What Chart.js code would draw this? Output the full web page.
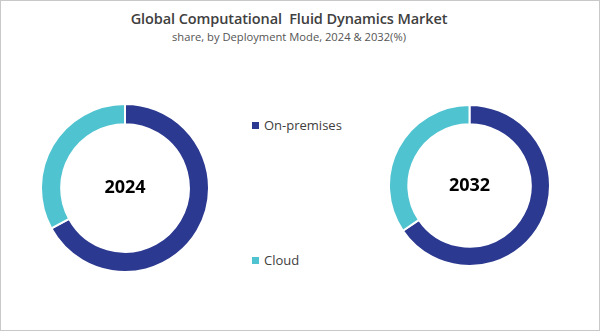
<!DOCTYPE html>
<html>
<head>
<meta charset="utf-8">
<script src="https://cdn.jsdelivr.net/npm/chart.js@4"></script>
<style>
  html, body { margin: 0; padding: 0; background: #fff; }
  #wrap {
    position: relative; width: 598px; height: 329px;
    border: 1px solid #c8c8c8; font-family: 'Open Sans', 'Noto Sans', sans-serif;
  }
  .title { position: absolute; left: 0; width: 576px; text-align: center; color: #404040; }
  #t1 { top: 8px; font-size: 14.5px; font-weight: 600; letter-spacing: -0.1px; }
  #t2 { top: 28px; font-size: 11.2px; color: #555; }
  .box { position: absolute; }
  .leg { position: absolute; font-size: 13px; color: #404040; display: flex; align-items: center; }
  .leg i { display: inline-block; width: 7px; height: 7px; margin-right: 5px; }
</style>
</head>
<body>
<div id="wrap">
  <div class="title" id="t1">Global Computational&nbsp; Fluid Dynamics Market</div>
  <div class="title" id="t2">share, by Deployment Mode, 2024 &amp; 2032(%)</div>
  <div class="box" style="left:39px;top:102px;width:170px;height:170px"><canvas id="c2024"></canvas></div>
  <div class="box" style="left:387px;top:103px;width:163px;height:163px"><canvas id="c2032"></canvas></div>
  <div class="leg" style="left:251px;top:115px"><i style="background:#2b3990"></i>On-premises</div>
  <div class="leg" style="left:251px;top:250px"><i style="background:#4fc3d0"></i>Cloud</div>
</div>
<script>
const categories = ['On-premises', 'Cloud'];
const years = ['2024', '2032'];
const share2024 = [67, 33];
const share2032 = [65.5, 34.5];
const colors = ['#2b3990', '#4fc3d0'];

const centerText = {
  id: 'centerText',
  afterDraw(chart, args, opts) {
    const arc = chart.getDatasetMeta(0).data[0];
    if (!arc) return;
    const ctx = chart.ctx;
    ctx.save();
    ctx.font = 'bold 18px "Open Sans", "Noto Sans", sans-serif';
    ctx.fillStyle = '#000';
    ctx.textAlign = 'center';
    ctx.textBaseline = 'middle';
    ctx.fillText(opts.text, arc.x, arc.y);
    ctx.restore();
  }
};

function makeDonut(id, values, label) {
  return new Chart(document.getElementById(id), {
    type: 'doughnut',
    data: {
      labels: categories,
      datasets: [{
        data: values,
        backgroundColor: colors,
        borderColor: '#fff',
        borderWidth: 2,
      }],
    },
    options: {
      maintainAspectRatio: false,
      responsive: true,
      animation: false,
      cutout: '76%',
      layout: { padding: 0 },
      plugins: {
        legend: { display: false },
        tooltip: { enabled: false },
        centerText: { text: label },
      },
    },
    plugins: [centerText],
  });
}

makeDonut('c2024', share2024, years[0]);
makeDonut('c2032', share2032, years[1]);
</script>
</body>
</html>
